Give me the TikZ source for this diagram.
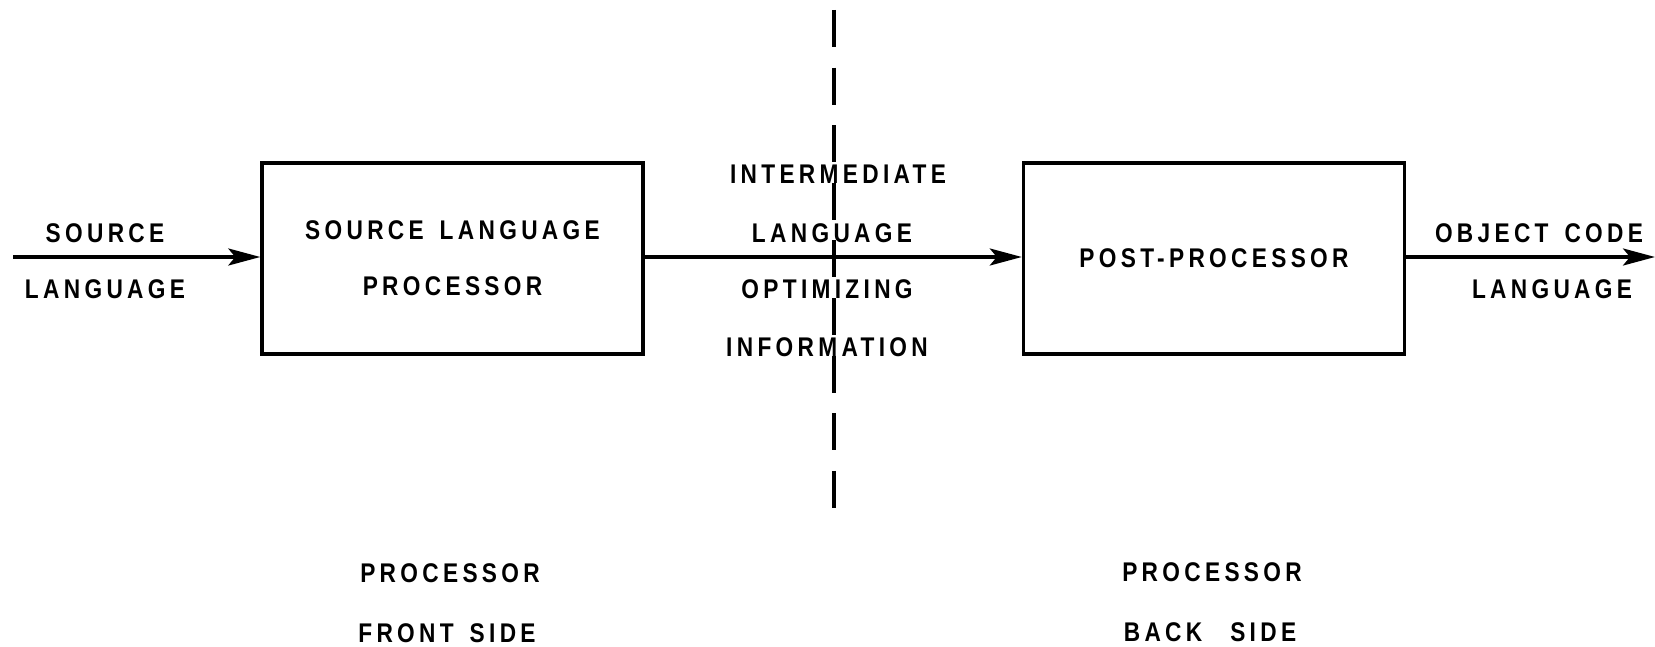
\documentclass[tikz,border=0pt]{standalone}
\usepackage{fontspec}
\setmainfont{Liberation Sans}[FakeStretch=0.84, LetterSpace=16, WordSpace=1.5, UprightFont=* Bold]
\usetikzlibrary{arrows.meta}
\begin{document}
\begin{tikzpicture}[x=1pt, y=-1pt,
  line width=3.4pt,
  lbl/.style={font=\fontsize{27}{56}\selectfont, align=center, inner sep=0pt},
  procbox/.style={draw, minimum width=381pt, minimum height=191pt, inner sep=0pt,
    font=\fontsize{27}{56}\selectfont, align=center},
  flow/.style={-{Stealth[length=32pt, width=17pt, inset=7pt]}},
  divider/.style={dash pattern=on 37pt off 20.6pt}]
\useasboundingbox (0,0) rectangle (1655,647);

% processing stages
\node[procbox] (front) at (452.5,258.5) {SOURCE LANGUAGE\\PROCESSOR};
\node[procbox] (back) at (1214,258.5) {POST-PROCESSOR};

% free ends of the input and output flows
\coordinate (in) at (13,257);
\coordinate (out) at (1655,257);

\draw[flow] (in) -- (front.west |- in);
\draw[flow] (front.east |- in) -- (back.west |- in);
\draw[flow] (back.east |- out) -- (out);

% front/back division
\coordinate (divtop) at (834,10);
\coordinate (divbot) at (834,508);
\draw[divider] (divtop) -- (divbot);

% flow labels
\node[lbl] (srcA) at (105,233) {SOURCE};
\node[lbl] (srcB) at (105,289) {LANGUAGE};
\node[lbl] (midA) at (838,174) {INTERMEDIATE};
\node[lbl] (midB) at (832,233) {LANGUAGE};
\node[lbl] (midC) at (827,289) {OPTIMIZING};
\node[lbl] (midD) at (827,347) {INFORMATION};
\node[lbl] (objA) at (1539,233) {OBJECT CODE};
\node[lbl] (objB) at (1552,289) {LANGUAGE};

% side captions
\node[lbl] (frontA) at (450,573) {PROCESSOR};
\node[lbl] (frontB) at (447,633) {FRONT SIDE};
\node[lbl] (backA) at (1212,572) {PROCESSOR};
\node[lbl] (backB) at (1210,632) {BACK\hspace{12pt} SIDE};
\end{tikzpicture}
\end{document}
